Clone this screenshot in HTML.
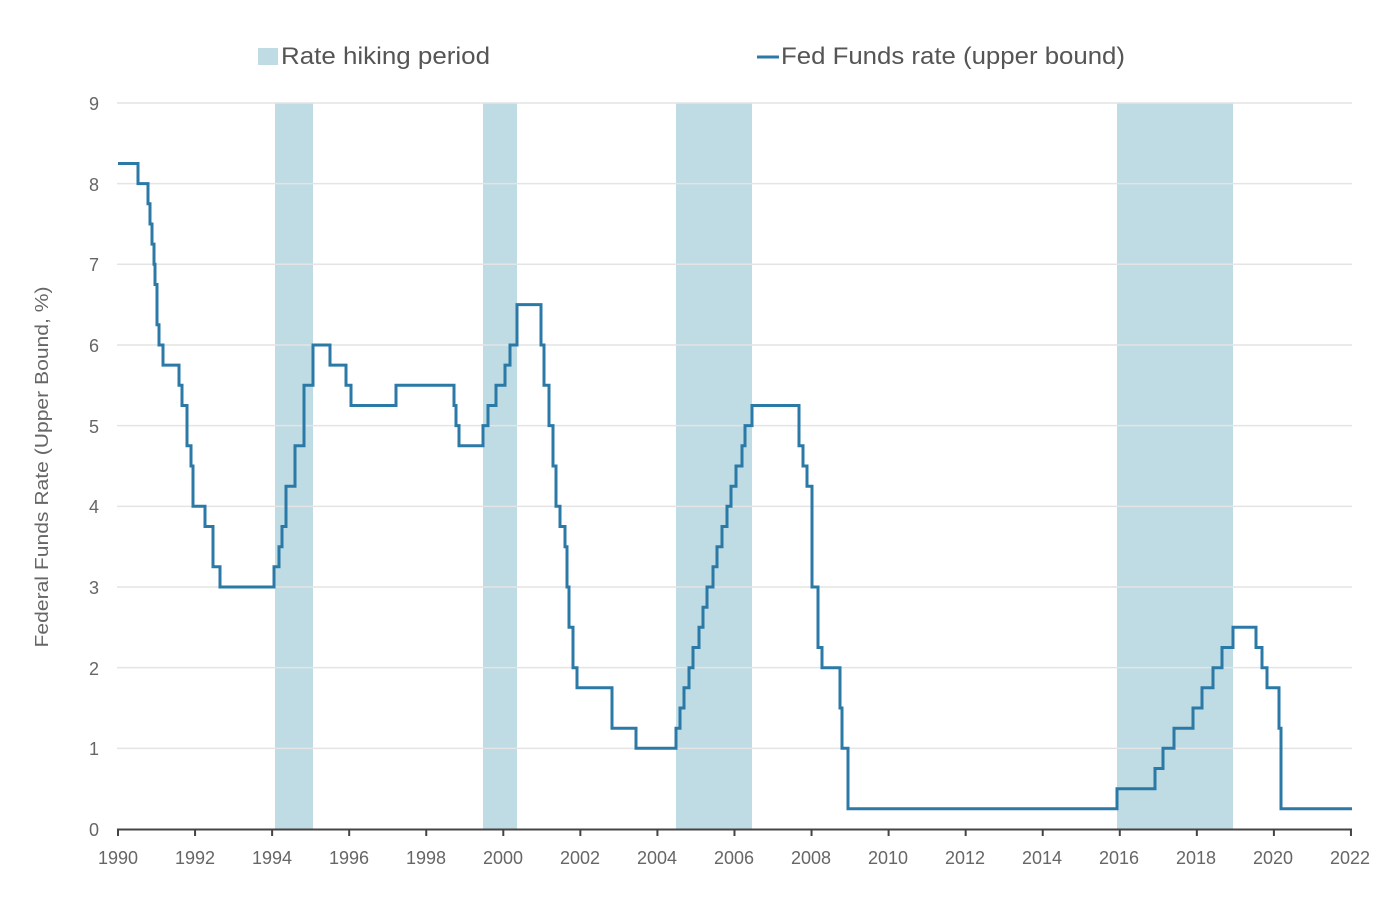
<!DOCTYPE html>
<html><head><meta charset="utf-8"><style>
html,body{margin:0;padding:0;background:#fff;}
svg{display:block;font-family:"Liberation Sans",sans-serif;}
</style></head><body>
<svg id="s" width="1400" height="910" viewBox="0 0 1400 910">
<g fill="#bfdce4">
<rect x="275" y="103" width="38" height="726"/>
<rect x="483" y="103" width="34" height="726"/>
<rect x="676" y="103" width="76" height="726"/>
<rect x="1117" y="103" width="116" height="726"/>
</g>
<g stroke="#e4e4e4" stroke-width="1.5" id="grid"></g>
<line x1="117" y1="829.5" x2="1352" y2="829.5" stroke="#444" stroke-width="2"/>
<g stroke="#444" stroke-width="2" id="ticks"></g>
<g fill="#666" font-size="18" text-anchor="end" id="ylab">
<text x="99" y="836">0</text><text x="99" y="755">1</text><text x="99" y="675">2</text>
<text x="99" y="594">3</text><text x="99" y="513">4</text><text x="99" y="433">5</text>
<text x="99" y="352">6</text><text x="99" y="271">7</text><text x="99" y="191">8</text>
<text x="99" y="110">9</text>
</g>
<g fill="#666" font-size="18" text-anchor="middle">
<text x="118" y="864">1990</text><text x="195" y="864">1992</text><text x="272" y="864">1994</text>
<text x="349" y="864">1996</text><text x="426" y="864">1998</text><text x="503" y="864">2000</text>
<text x="580" y="864">2002</text><text x="657" y="864">2004</text><text x="734" y="864">2006</text>
<text x="811" y="864">2008</text><text x="888" y="864">2010</text><text x="965" y="864">2012</text>
<text x="1042" y="864">2014</text><text x="1119" y="864">2016</text><text x="1196" y="864">2018</text>
<text x="1273" y="864">2020</text><text x="1350" y="864">2022</text>
</g>
<text x="0" y="0" transform="translate(48,467) rotate(-90)" fill="#666" font-size="18" text-anchor="middle" textLength="361" lengthAdjust="spacingAndGlyphs">Federal Funds Rate (Upper Bound, %)</text>
<rect x="258" y="48" width="20" height="17" fill="#bfdce4"/>
<text x="281" y="64" fill="#555" font-size="24" textLength="209" lengthAdjust="spacingAndGlyphs">Rate hiking period</text>
<line x1="757" y1="57" x2="779" y2="57" stroke="#2b79a6" stroke-width="3"/>
<text x="781" y="64" fill="#555" font-size="24" textLength="344" lengthAdjust="spacingAndGlyphs">Fed Funds rate (upper bound)</text>
<path id="p" fill="none" stroke="#2b79a6" stroke-width="3" stroke-linejoin="miter"/>
</svg>
<script>
var ns="http://www.w3.org/2000/svg";
function Y(v){return 829-v*80.67;}
var g=document.getElementById("grid");
for(var i=1;i<=9;i++){var l=document.createElementNS(ns,"line");l.setAttribute("x1",117);l.setAttribute("x2",1352);l.setAttribute("y1",Y(i));l.setAttribute("y2",Y(i));g.appendChild(l);}
var t=document.getElementById("ticks");
for(var k=0;k<=16;k++){var x=118+k*77.06;var l=document.createElementNS(ns,"line");l.setAttribute("x1",x);l.setAttribute("x2",x);l.setAttribute("y1",829);l.setAttribute("y2",836);t.appendChild(l);}
var d=[[118,8.25],[138,8],[148,7.75],[150,7.5],[152,7.25],[154,7],[155,6.75],[157,6.25],[159,6],[163,5.75],[168,5.75],[179,5.5],[182,5.25],[187,4.75],[191,4.5],[193,4],[205,3.75],[213,3.25],[220,3],[274,3.25],[279,3.5],[282,3.75],[286,4.25],[295,4.75],[304,5.5],[313,6],[330,5.75],[346,5.5],[351,5.25],[396,5.5],[454,5.25],[456,5],[459,4.75],[483,5],[488,5.25],[496,5.5],[505,5.75],[510,6],[517,6.5],[541,6],[544,5.5],[549,5],[553,4.5],[556,4],[560,3.75],[565,3.5],[567,3],[569,2.5],[573,2],[577,1.75],[612,1.25],[636,1],[676,1.25],[680,1.5],[684,1.75],[689,2],[693,2.25],[699,2.5],[703,2.75],[707,3],[713,3.25],[717,3.5],[722,3.75],[727,4],[731,4.25],[736,4.5],[742,4.75],[745,5],[752,5.25],[799,4.75],[803,4.5],[807,4.25],[812,3],[818,2.25],[822,2],[840,1.5],[842,1],[848,0.25],[1117,0.5],[1155,0.75],[1163,1],[1174,1.25],[1193,1.5],[1202,1.75],[1213,2],[1222,2.25],[1233,2.5],[1256,2.25],[1262,2],[1267,1.75],[1279,1.25],[1281,0.25]];
var s="M"+d[0][0]+" "+Y(d[0][1]);
for(var i=1;i<d.length;i++){s+=" H"+d[i][0]+" V"+Y(d[i][1]).toFixed(1);}
s+=" H1352";
document.getElementById("p").setAttribute("d",s);
</script>
</body></html>
